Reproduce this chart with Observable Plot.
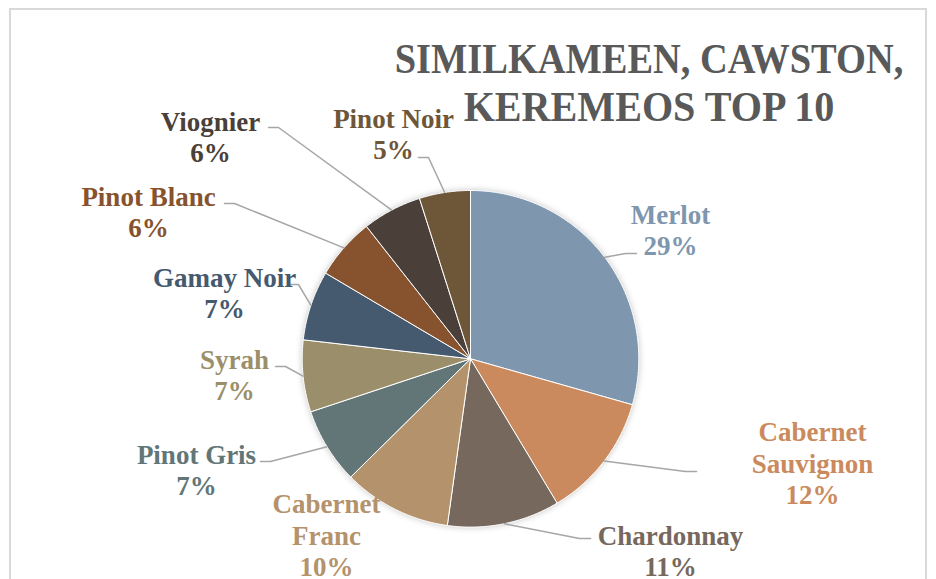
<!DOCTYPE html>
<html>
<head>
<meta charset="utf-8">
<script src="https://cdn.jsdelivr.net/npm/d3@7"></script>
<script src="https://cdn.jsdelivr.net/npm/@observablehq/plot@0.6"></script>
<style>
  html, body { margin: 0; padding: 0; background: #fff; overflow: hidden; }
  #wrap { position: relative; width: 936px; height: 579px; overflow: hidden; }
  #border { position: absolute; left: 9px; top: 8px; width: 918px; height: 620px;
            border: 2px solid #d9d9d9; box-sizing: border-box; }
  .title { position: absolute; left: 649px; font-family: "Liberation Serif", serif; font-weight: bold;
           font-size: 42px; line-height: 46px; color: #595959; white-space: nowrap;
           transform-origin: center; }
  #chart { position: absolute; left: 0; top: 0; }
</style>
</head>
<body>
<div id="wrap">
  <div id="border"></div>
  <div id="chart"></div>
  <div class="title" style="top:36px; transform: translateX(-50%) scaleX(0.915)">SIMILKAMEEN, CAWSTON,</div>
  <div class="title" style="top:84px; transform: translateX(-50%) scaleX(0.955)">KEREMEOS TOP 10</div>
</div>
<script>
// ---- data ----
const categories = ["Merlot", "Cabernet Sauvignon", "Chardonnay", "Cabernet Franc", "Pinot Gris",
                    "Syrah", "Gamay Noir", "Pinot Blanc", "Viognier", "Pinot Noir"];
// shares (%); labels show them rounded
const shares = [29.4, 12.0, 10.8, 10.4, 7.3, 6.9, 6.7, 5.9, 5.7, 4.9];
const colors = ["#7E96AE", "#CB8A5E", "#77685D", "#B4926C", "#627677",
                "#9B8F6B", "#465A6F", "#87532E", "#4A3F39", "#6E5639"];

// ---- layout (label block centres, leader end points; side: -1 = label left of pie) ----
const labelLayout = [
  {lx: 670, ly: 229, ex: 636, ey: 253, side: 1, wrap: false},
  {lx: 812, ly: 462, ex: 696, ey: 471, side: 1, wrap: true},
  {lx: 670, ly: 550, ex: 590, ey: 538, side: 1, wrap: false},
  {lx: 326, ly: 534, ex: null, ey: null, side: -1, wrap: true},
  {lx: 196, ly: 469, ex: 260, ey: 461, side: -1, wrap: false},
  {lx: 234, ly: 374, ex: 275, ey: 366, side: -1, wrap: false},
  {lx: 224, ly: 292, ex: 288, ey: 284, side: -1, wrap: false},
  {lx: 148, ly: 211, ex: 224, ey: 203, side: -1, wrap: false},
  {lx: 210, ly: 136, ex: 268, ey: 127, side: -1, wrap: false},
  {lx: 393, ly: 133, ex: 418, ey: 157, side: -1, wrap: false}
];
const cx = 470, cy = 358.3, R = 168.3;

const rows = categories.map((name, i) => ({name, value: shares[i], ...labelLayout[i]}));
const arcs = d3.pie().sort(null).value(d => d.value)(rows);

// slice outlines
const slicePts = [];
arcs.forEach(a => {
  const n = Math.max(4, Math.ceil((a.endAngle - a.startAngle) / (Math.PI / 360)));
  slicePts.push({name: a.data.name, x: cx, y: cy});
  for (let k = 0; k <= n; k++) {
    const t = a.startAngle + (a.endAngle - a.startAngle) * k / n;
    slicePts.push({name: a.data.name, x: cx + R * Math.sin(t), y: cy - R * Math.cos(t)});
  }
  slicePts.push({name: a.data.name, x: cx, y: cy});
});

// leader lines: slice edge at mid-angle -> elbow -> short horizontal to label
const leaderPts = [];
arcs.forEach(a => {
  const d = a.data;
  if (d.ex == null) return;
  const m = (a.startAngle + a.endAngle) / 2;
  leaderPts.push({name: d.name, x: cx + R * Math.sin(m), y: cy - R * Math.cos(m)});
  leaderPts.push({name: d.name, x: d.ex + (d.side < 0 ? 10 : -11), y: d.ey});
  leaderPts.push({name: d.name, x: d.ex, y: d.ey});
});

const labels = rows.map(d => ({
  ...d,
  label: (d.wrap ? d.name.replace(" ", "\n") : d.name) + "\n" + Math.round(d.value) + "%"
}));

const chart = Plot.plot({
  width: 936,
  height: 579,
  margin: 0,
  x: {type: "identity", axis: null},
  y: {type: "identity", axis: null},
  color: {domain: categories, range: colors},
  marks: [
    Plot.line(slicePts, {x: "x", y: "y", z: "name", fill: "name", stroke: "white", strokeWidth: 1,
                         strokeLinejoin: "round", curve: "linear"}),
    Plot.line(leaderPts, {x: "x", y: "y", z: "name", stroke: "#a6a6a6", strokeWidth: 1.5}),
    Plot.text(labels, {x: "lx", y: "ly", text: "label", fill: "name", fontSize: 27, fontWeight: "bold",
                       fontFamily: "Liberation Serif", lineHeight: 1.17, textAnchor: "middle", lineAnchor: "middle"})
  ],
  style: {background: "transparent", overflow: "visible"}
});
document.getElementById("chart").append(chart);
const g = chart.querySelector('g[aria-label="line"]');
if (g) g.style.filter = "drop-shadow(0px 0px 3px rgba(0,0,0,0.22))";
</script>
</body>
</html>
